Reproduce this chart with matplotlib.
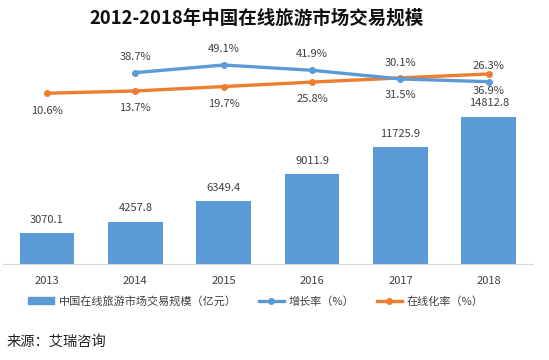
import matplotlib
matplotlib.use("Agg")
import matplotlib.pyplot as plt
from matplotlib.lines import Line2D
from matplotlib.patches import Patch

plt.rcParams['font.family'] = ['Noto Sans CJK SC', 'DejaVu Sans']

years = ['2013', '2014', '2015', '2016', '2017', '2018']
scale = [3070.1, 4257.8, 6349.4, 9011.9, 11725.9, 14812.8]
growth_years = ['2014', '2015', '2016', '2017', '2018']
growth = [38.7, 49.1, 41.9, 30.1, 26.3]
online = [10.6, 13.7, 19.7, 25.8, 31.5, 36.9]

title = '2012-2018年中国在线旅游市场交易规模'
legend_labels = ['中国在线旅游市场交易规模（亿元）', '增长率（%）', '在线化率（%）']
source = '来源：艾瑞咨询'

BLUE = '#5B9BD5'
ORANGE = '#ED7D31'
TXT = '#404040'

W, H = 549, 360
fig = plt.figure(figsize=(W / 100, H / 100), dpi=100)
left, right, top, bottom = 2.8, 533, 40, 264
ax = fig.add_axes([left / W, 1 - bottom / H, (right - left) / W, (bottom - top) / H])

x = list(range(len(years)))
ax.bar(x, scale, width=0.62, color=BLUE, zorder=2)
ax.set_xlim(-0.5, len(years) - 0.5)
ax.set_ylim(0, (bottom - top) / 0.00995)
for xi, v in zip(x, scale):
    ax.annotate(f'{v:.1f}', (xi, v), xytext=(0, 9.5), textcoords='offset points',
                ha='center', va='center', fontsize=8, color=TXT)

ax.set_xticks(x)
ax.set_xticklabels(years, fontsize=8, color=TXT)
ax.tick_params(axis='x', length=0, pad=8.5)
ax.set_yticks([])
for s in ['top', 'right', 'left']:
    ax.spines[s].set_visible(False)
ax.spines['bottom'].set_color('#D9D9D9')

ax2 = ax.twinx()
px_per = 0.733
zero_y = 101
ax2.set_ylim(-(bottom - zero_y) / px_per, (zero_y - top) / px_per)
ax2.set_yticks([])
for s in ax2.spines.values():
    s.set_visible(False)

gx = [years.index(y) for y in growth_years]
ax2.plot(x, online, color=ORANGE, lw=2.4, marker='o', ms=4, zorder=3)
ax2.plot(gx, growth, color=BLUE, lw=2.4, marker='o', ms=4, zorder=4)
for xi, v in zip(gx, growth):
    ax2.annotate(f'{v:.1f}%', (xi, v), xytext=(0, 11.5), textcoords='offset points',
                 ha='center', va='center', fontsize=8, color=TXT)
for xi, v in zip(x, online):
    ax2.annotate(f'{v:.1f}%', (xi, v), xytext=(0, -12.5), textcoords='offset points',
                 ha='center', va='center', fontsize=8, color=TXT)

fig.text(256.5 / W, 1 - 18 / H, title, ha='center', va='center', fontsize=13.3,
         fontweight='bold', color='#111111')

handles = [Patch(color=BLUE),
           Line2D([], [], color=BLUE, lw=2.4, marker='o', ms=4),
           Line2D([], [], color=ORANGE, lw=2.4, marker='o', ms=4)]
fig.legend(handles, legend_labels, loc='center', bbox_to_anchor=(256 / W, 1 - 301 / H),
           ncol=3, frameon=False, fontsize=8, handlelength=2.3, handletextpad=0.4,
           columnspacing=2.0, labelcolor=TXT)

fig.text(7 / W, 1 - 342 / H, source, ha='left', va='center', fontsize=10.3, color='#222222')

fig.savefig('out.png', dpi=100)
